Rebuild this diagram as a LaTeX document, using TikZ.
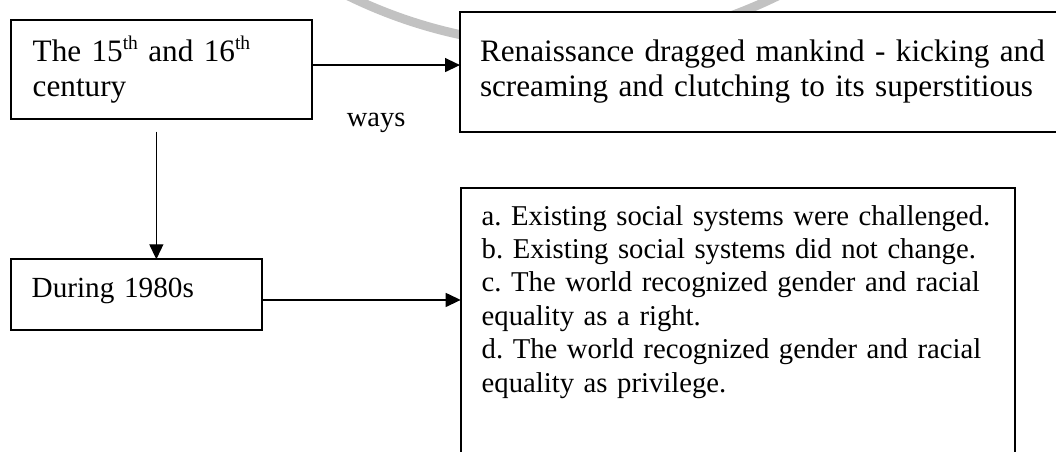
\documentclass[tikz,border=0pt]{standalone}
\usepackage{fontspec}
\setmainfont{Liberation Serif}
\usetikzlibrary{arrows.meta,calc}
\newcommand{\thsup}{\raisebox{12.5pt}{\fontsize{19.5}{20}\selectfont th}}
\newcommand{\oneline}[1]{\mbox{#1}}
\begin{document}
\begin{tikzpicture}[x=1pt,y=1pt,
  box/.style={draw, line width=2pt, fill=white, rectangle, inner ysep=0pt, outer sep=0pt, anchor=base west, align=left},
  bigf/.style={font=\fontsize{31.2}{34.8}\selectfont\frenchspacing},
  smallf/.style={font=\fontsize{28.7}{33.4}\selectfont\frenchspacing},
  arr/.style={line width=1.3pt, -{Triangle[length=15pt,width=14pt]}},
  wmark/.style={draw=black!24, line width=9pt}]
\useasboundingbox (0,0) rectangle (1056,451);
\clip (0,0) rectangle (1056,451);
% watermark arc
\draw[wmark] (563,894) ++(238:488.6) arc[start angle=238, end angle=302, radius=488.6];
% boxes
\node[box, bigf, inner xsep=21.7pt, text width=257.3pt, text height=41.7pt, text depth=57.6pt] (b1) at (11,389.3)
  {\oneline{The 15\thsup{} and 16\thsup}\\century};
\node[box, bigf, inner xsep=20pt, text width=580pt, text height=50pt, text depth=70.6pt] (b2) at (460,389.3)
  {\oneline{Renaissance dragged mankind - kicking and}\\\oneline{screaming and clutching to its superstitious}};
\node[box, smallf, font=\fontsize{29.2}{33.4}\selectfont, inner xsep=20.7pt, text width=209.6pt, text height=38pt, text depth=32.7pt] (b3) at (11,153.7)
  {During 1980s};
\node[box, smallf, inner xsep=21pt, text width=512.3pt, text height=36.7pt, text depth=255pt] (b4) at (460.7,226)
  {\oneline{a. Existing social systems were challenged.}\\
   \oneline{b. Existing social systems did not change.}\\
   \oneline{c. The world recognized gender and racial}\\
   \oneline{equality as a right.}\\
   \oneline{d. The world recognized gender and racial}\\
   \oneline{equality as privilege.}};
\node[font=\fontsize{28.5}{30}\selectfont, anchor=base west, inner sep=0pt] (ways) at (346.7,324.3) {ways};
% connectors
\draw[arr] ([yshift=4.6pt]b1.east) -- ([yshift=4.6pt]b1.east -| b2.west);
\draw[arr] ([xshift=-5pt,yshift=-12.4pt]b1.south) coordinate (vs) -- (vs |- b3.north);
\draw[arr] ([yshift=-5.3pt]b3.east) -- ([yshift=-5.3pt]b3.east -| b4.west);
\end{tikzpicture}
\end{document}
